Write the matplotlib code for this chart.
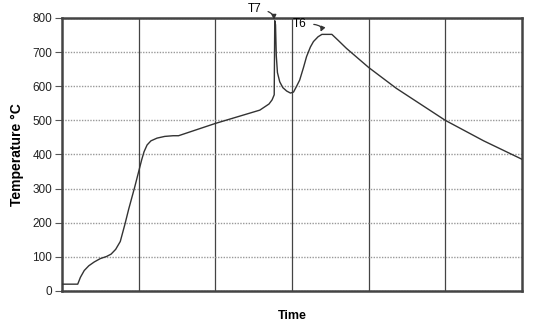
import matplotlib
matplotlib.use('Agg')
import matplotlib.pyplot as plt

plt.rcParams['font.family'] = ['Liberation Sans', 'DejaVu Sans']

# heating / cooling profile, time in arbitrary divisions
time = [0, 0.205, 0.24, 0.29, 0.35, 0.42, 0.50, 0.58, 0.64, 0.70, 0.76, 0.82,
        0.87, 0.95, 1.0, 1.04, 1.07, 1.11, 1.16, 1.24, 1.34, 1.45, 1.52, 2.0,
        2.58, 2.70, 2.74, 2.768, 2.775, 2.785, 2.795, 2.81, 2.84, 2.88, 2.93,
        2.98, 3.02, 3.06, 3.10, 3.15, 3.19, 3.24, 3.28, 3.34, 3.39, 3.52, 3.60,
        3.71, 4.0, 4.36, 5.0, 5.5, 6.0]
temperature = [20, 20, 40, 60, 74, 85, 95, 101, 108, 122, 145, 195,
               240, 306, 350, 385, 408, 428, 440, 448, 453, 455, 455, 491,
               530, 548, 560, 575, 792, 780, 690, 640, 613, 596, 586,
               580, 583, 600, 618, 655, 687, 715, 731, 745, 752, 752, 735,
               711, 655, 594, 500, 440, 386]

fig = plt.figure(figsize=(5.35, 3.26), dpi=100)
ax = fig.add_axes([0.1159, 0.1074, 0.8598, 0.8374])

ax.plot(time, temperature, color='#333333', lw=1.0, zorder=3)

ax.set_xlim(0, 6)
ax.set_ylim(0, 800)
ax.set_yticks(range(0, 801, 100))
ax.set_xticks(range(1, 6))
ax.set_xticklabels([])
ax.tick_params(axis='x', length=0)
ax.tick_params(axis='y', length=5, width=0.8, color='#555555', labelsize=8.5,
               labelcolor='#222222', pad=2)

ax.yaxis.grid(True, color='#999999', lw=1.0, ls=(0, (1, 1)))
ax.xaxis.grid(True, color='#444444', lw=0.9, ls='-')
ax.set_axisbelow(True)

for side in ['top', 'bottom', 'left', 'right']:
    ax.spines[side].set_color('#444444')
    ax.spines[side].set_linewidth(1.8)

ax.set_ylabel('Temperature \u00b0C', fontsize=10, fontweight='bold', labelpad=6)
ax.set_xlabel('Time', fontsize=9, fontweight='bold', labelpad=10)

arrow = dict(arrowstyle='-|>', color='#333333', lw=0.9, mutation_scale=7,
             shrinkA=3, shrinkB=1)
ax.annotate('T7', xy=(2.765, 791), xytext=(2.51, 825), fontsize=8.5,
            ha='center', va='center', annotation_clip=False,
            arrowprops=dict(arrow, connectionstyle='angle3,angleA=0,angleB=85'))
ax.annotate('T6', xy=(3.365, 756), xytext=(3.104, 781), fontsize=8.5,
            ha='center', va='center',
            arrowprops=dict(arrow, connectionstyle='angle3,angleA=5,angleB=60'))

fig.savefig('out.png', dpi=100)
